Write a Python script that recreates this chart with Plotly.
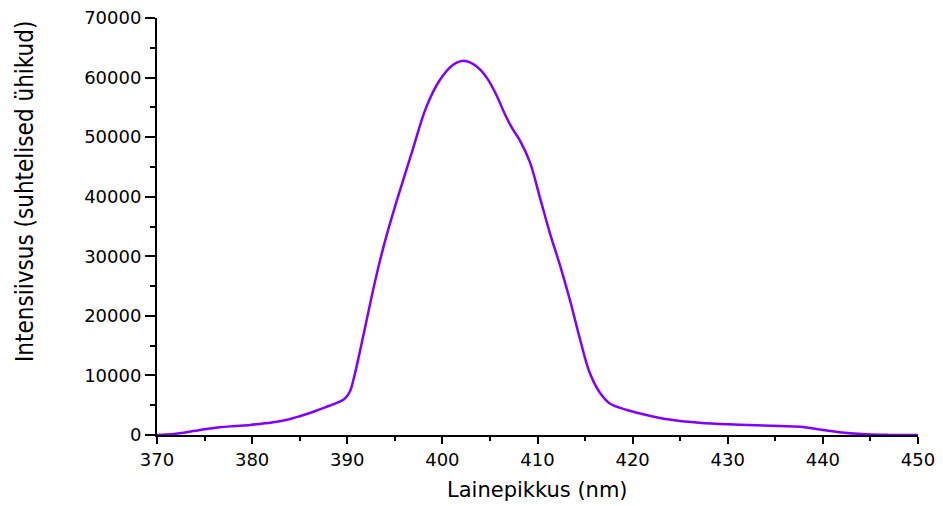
import plotly.graph_objects as go

wavelength = [370, 371, 372, 372.8, 374, 375.2, 376.6, 378, 379.8, 381, 382.6, 384, 385, 386, 387.1, 388.2,
              389.2, 389.8, 390.3, 390.7, 391.3, 392.0, 392.7, 393.4, 394.1, 395.2, 396.8, 398.3, 399.7,
              401.1, 402.1, 403.2, 404.0, 404.7, 405.7, 406.5, 407.3, 408.2, 409.2, 410.3, 411.3, 412.4,
              413.4, 414.5, 415.5, 416.6, 417.6, 419.4, 420.8, 423, 425, 427, 430, 433, 435.5, 437.6,
              440, 442, 444.6, 447, 450]
intensity = [0, 80, 220, 390, 700, 1000, 1290, 1480, 1680, 1900, 2240, 2700, 3150, 3650, 4300, 4950,
             5600, 6200, 7400, 9600, 13800, 19000, 24200, 29000, 33300, 39300, 47500, 55000, 59500,
             62100, 62800, 62300, 61300, 59900, 57000, 54100, 51600, 49300, 45800, 39600, 33900, 28300,
             22700, 15900, 10400, 7000, 5300, 4200, 3600, 2800, 2350, 2070, 1800, 1620, 1510, 1400,
             850, 420, 110, 20, 0]

x_ticks = [370, 380, 390, 400, 410, 420, 430, 440, 450]
y_ticks = [0, 10000, 20000, 30000, 40000, 50000, 60000, 70000]

x_title = "Lainepikkus (nm)"
y_title = "Intensiivsus (suhtelised ühikud)"

fig = go.Figure()
fig.add_trace(go.Scatter(
    x=wavelength, y=intensity, mode="lines",
    line=dict(color="#8000ff", width=2.5, shape="spline", smoothing=1.0),
    showlegend=False, hoverinfo="skip",
))

tick_font = dict(family="DejaVu Sans, Arial, sans-serif", size=18, color="black")

fig.update_layout(
    width=943, height=506,
    margin=dict(l=157, r=25, t=18, b=71),
    paper_bgcolor="white", plot_bgcolor="white",
    xaxis=dict(
        range=[370, 450], tickvals=x_ticks, ticktext=[str(v) for v in x_ticks],
        showgrid=False, zeroline=False, automargin=False,
        showline=True, linecolor="black", linewidth=2,
        ticks="outside", ticklen=7, tickwidth=2, tickcolor="black",
        minor=dict(ticks="outside", ticklen=4, tickwidth=2, tickcolor="black", dtick=5, showgrid=False),
        tickfont=tick_font,
    ),
    yaxis=dict(
        range=[0, 70000], tickvals=y_ticks, ticktext=[str(v) for v in y_ticks],
        showgrid=False, zeroline=False, automargin=False,
        showline=True, linecolor="black", linewidth=2,
        ticks="outside", ticklen=10, tickwidth=2, tickcolor="black",
        minor=dict(ticks="outside", ticklen=5, tickwidth=2, tickcolor="black", dtick=5000, showgrid=False),
        tickfont=tick_font,
    ),
    annotations=[
        dict(text=x_title, xref="paper", yref="paper", x=0.5, y=(435 - 490) / 417,
             xanchor="center", yanchor="middle", showarrow=False,
             font=dict(family="DejaVu Sans, Arial, sans-serif", size=21, color="black")),
        dict(text=y_title, xref="paper", yref="paper", x=(25 - 157) / 761, y=(435 - 192) / 417,
             xanchor="center", yanchor="middle", showarrow=False, textangle=-90,
             font=dict(family="DejaVu Sans Condensed, Liberation Sans Narrow, sans-serif",
                       size=24, color="black")),
    ],
)

fig.write_html("out.html")
